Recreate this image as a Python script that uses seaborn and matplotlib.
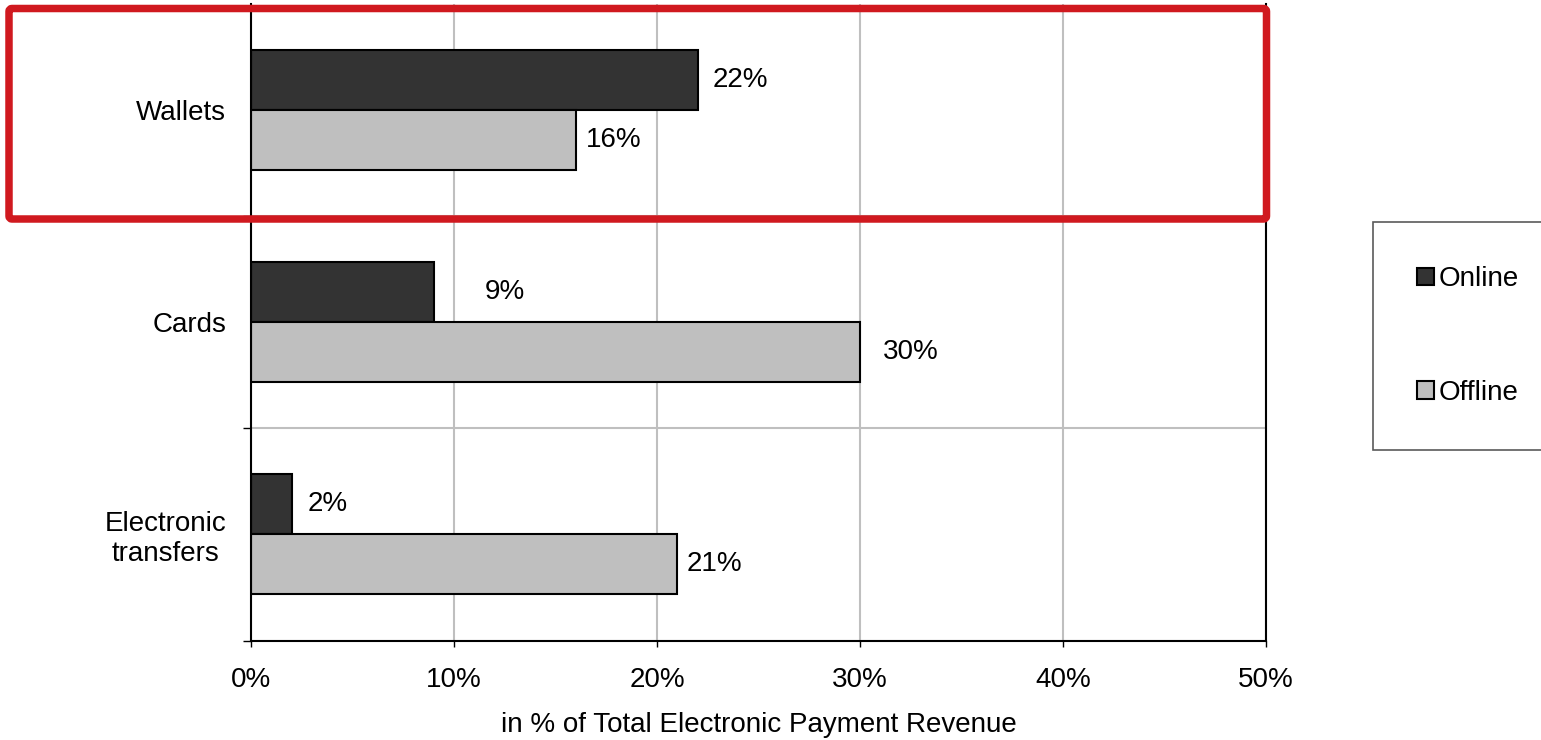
import pandas as pd
import numpy as np
import matplotlib.pyplot as plt
import seaborn as sns
from matplotlib.patches import FancyBboxPatch
from matplotlib.transforms import IdentityTransform

sns.set_theme(style='white')
plt.rcParams['font.family'] = ['Liberation Sans', 'DejaVu Sans']
plt.rcParams.update({'text.color': 'black', 'axes.labelcolor': 'black',
                     'xtick.color': 'black', 'ytick.color': 'black'})

# data (in %)
categories = ['Wallets', 'Cards', 'Electronic\ntransfers']
online = [22, 9, 2]
offline = [16, 30, 21]
channels = ['Online', 'Offline']
xticks = [0, 10, 20, 30, 40, 50]

# label gap right of each bar end (points), as placed in the original
label_gap = {'Online': [11, 37, 11.5], 'Offline': [7, 16.5, 7]}

df = pd.DataFrame({
    'category': categories * 2,
    'channel': ['Online'] * 3 + ['Offline'] * 3,
    'value': online + offline,
})

W, H = 1541, 740
fig = plt.figure(figsize=(W / 100, H / 100), dpi=100)
ax = fig.add_axes([251 / W, 1 - 640.5 / H, (1266 - 251) / W, (640.5 - 3.5) / H])

sns.barplot(data=df, x='value', y='category', hue='channel', hue_order=channels,
            palette=['#333333', '#BFBFBF'], saturation=1, width=0.566,
            edgecolor='black', linewidth=1.5, errorbar=None, orient='h', ax=ax)

ax.set_xlim(0, 50)
ax.set_ylim(2.5, -0.5)
ax.set_xticks(xticks)
ax.set_xticklabels([f'{v}%' for v in xticks], fontsize=20)
ax.set_yticks(range(len(categories)))
ax.set_yticklabels(categories, fontsize=20, multialignment='center')
ax.set_yticks([0.5, 1.5, 2.5], minor=True)
ax.set_ylabel('')
ax.set_xlabel('in % of Total Electronic Payment Revenue', fontsize=20, labelpad=14)

ax.tick_params(axis='y', which='major', length=0, pad=18)
ax.tick_params(axis='y', which='minor', length=6, width=1, color='black', direction='out', left=True)
ax.tick_params(axis='x', which='major', length=4.5, width=1, color='black', direction='out', bottom=True, pad=14.5)

ax.set_axisbelow(True)
ax.xaxis.grid(True, color='#BFBFBF', lw=1.5)
ax.yaxis.grid(True, which='minor', color='#BFBFBF', lw=1.5)
ax.yaxis.grid(False, which='major')

for side in ['left', 'bottom', 'right']:
    ax.spines[side].set_visible(True)
    ax.spines[side].set_color('black')
    ax.spines[side].set_linewidth(1.5)
ax.spines['top'].set_visible(False)

# value labels
for cont, ch in zip(ax.containers, channels):
    for bar, gap in zip(cont, label_gap[ch]):
        val = bar.get_width()
        ax.annotate(f'{val:.0f}%', (val, bar.get_y() + bar.get_height() / 2),
                    xytext=(gap, 0), textcoords='offset points',
                    ha='left', va='center', fontsize=20, color='black')

# legend outside at the right
handles, labels = ax.get_legend_handles_labels()
ax.get_legend().remove()
for h in handles:
    h.set_edgecolor('black')
    h.set_linewidth(1.5)
leg = fig.legend(handles, labels, loc='upper left', bbox_to_anchor=(1373 / W, 1 - 222 / H),
                 frameon=True, fancybox=False, framealpha=1, edgecolor='#5A5A5A',
                 borderpad=1.6, labelspacing=3.15, handlelength=0.6, handleheight=0.6,
                 handletextpad=0.15, borderaxespad=0, fontsize=20)
leg.get_frame().set_linewidth(1.2)

# red highlight box around the Wallets row
box = FancyBboxPatch((9, H - 219), 1266.5 - 9, 219 - 8.5,
                     boxstyle='round,pad=0,rounding_size=3',
                     transform=IdentityTransform(), fill=False,
                     edgecolor='#D0191F', linewidth=5.4, joinstyle='round', zorder=10)
fig.patches.append(box)

fig.savefig('out.png', dpi=100)
